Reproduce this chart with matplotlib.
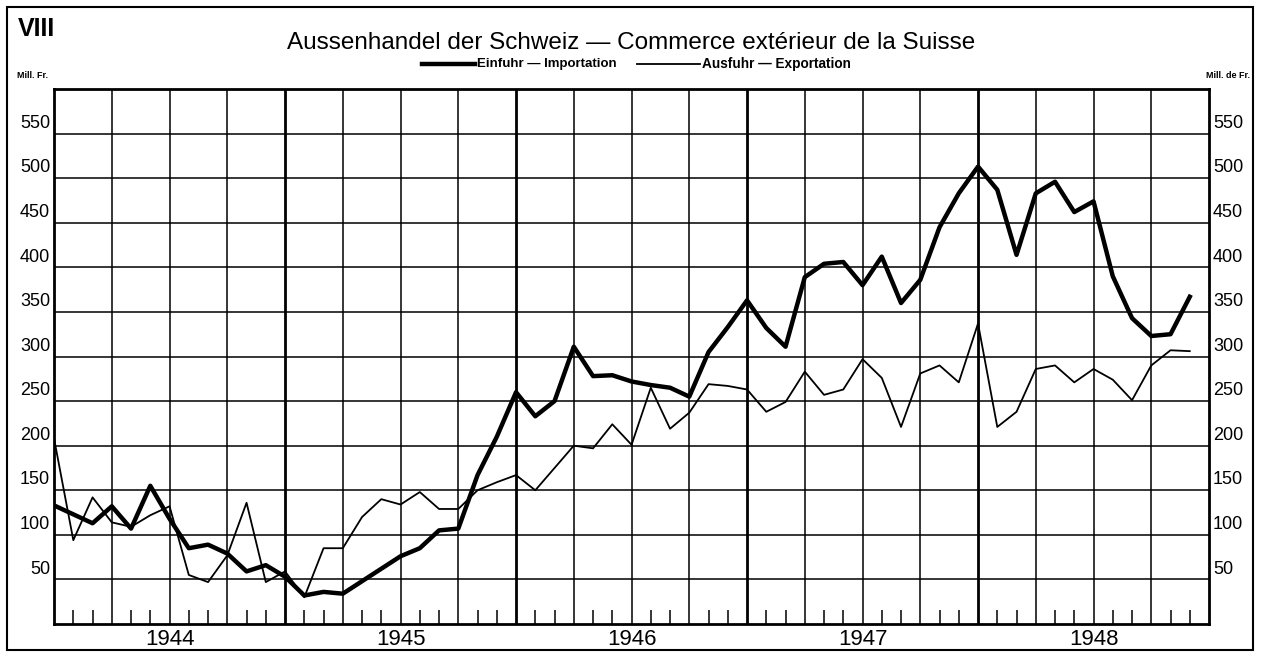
import matplotlib
matplotlib.use('Agg')
import matplotlib.pyplot as plt
import numpy as np
from matplotlib.patches import Rectangle

plt.rcParams['font.family'] = ['Liberation Sans', 'DejaVu Sans']

# monthly values, Jan 1944 .. Dec 1948 (Mill. Fr.)
years = ['1944', '1945', '1946', '1947', '1948']
imports = [133, 123, 113, 132, 107, 155, 118, 85, 89, 79, 59, 66,
           53, 32, 36, 34, 48, 62, 76, 85, 105, 107, 167, 210,
           260, 233, 250, 311, 278, 279, 272, 268, 265, 255, 305, 333,
           363, 332, 311, 389, 404, 406, 380, 412, 360, 386, 445, 483,
           513, 487, 414, 483, 496, 462, 474, 390, 343, 323, 325, 367]
exports = [208, 94, 142, 114, 109, 122, 132, 55, 47, 77, 136, 47,
           59, 30, 85, 85, 120, 140, 134, 148, 129, 129, 150, 159,
           167, 150, 175, 200, 197, 224, 201, 265, 219, 237, 269, 267,
           263, 238, 249, 283, 257, 263, 297, 276, 221, 281, 290, 271,
           337, 221, 238, 286, 290, 271, 286, 274, 251, 290, 307, 306]
y_ticks = list(range(50, 600, 50))

fig = plt.figure(figsize=(12.66, 6.53), dpi=100)
ax = fig.add_axes([0.0427, 0.0444, 0.9123, 0.8193])

months = np.arange(len(imports))
ax.plot(months, imports, color='black', linewidth=3.2, solid_joinstyle='round', zorder=3)
ax.plot(months, exports, color='black', linewidth=1.3, zorder=3)

ax.set_xlim(0, 60)
ax.set_ylim(0, 600)

# grid: horizontal every 50, vertical every quarter, year lines heavier
for v in y_ticks:
    ax.axhline(v, color='black', linewidth=1.1, zorder=1)
for q in range(3, 60, 3):
    lw = 2.0 if q % 12 == 0 else 1.1
    ax.axvline(q, color='black', linewidth=lw, zorder=1)

ax.set_xticks([m for m in range(1, 60) if m % 3 != 0])
ax.set_yticks([])
ax.tick_params(axis='x', direction='in', length=10, width=1.1, labelbottom=False, color='black')
for s in ax.spines.values():
    s.set_linewidth(2.0)

for i, yr in enumerate(years):
    ax.text(12 * i + 6, -6, yr, ha='center', va='top', fontsize=16)

for v in y_ticks:
    ax.text(-0.2, v + 2, str(v), ha='right', va='bottom', fontsize=13)
    ax.text(60.2, v + 2, str(v), ha='left', va='bottom', fontsize=13)

# texts around the chart
fig.text(18 / 1266, 1 - 29 / 653, 'VIII', fontsize=18, fontweight='bold', va='center')
fig.text(631 / 1266, 1 - 43 / 653, 'Aussenhandel der Schweiz \u2014 Commerce extérieur de la Suisse',
         fontsize=17.5, ha='center', va='center')
fig.text(17 / 1266, 1 - 76 / 653, 'Mill. Fr.', fontsize=6.5, fontweight='bold', va='center')
fig.text(1250 / 1266, 1 - 76 / 653, 'Mill. de Fr.', fontsize=6.5, fontweight='bold', va='center', ha='right')

# legend drawn by hand like the original
ly = 1 - 64 / 653
fig.add_artist(plt.Line2D([422 / 1266, 475 / 1266], [ly, ly], color='black', linewidth=3.2))
fig.text(477 / 1266, ly, 'Einfuhr \u2014 Importation', fontsize=9.5, fontweight='bold', va='center')
fig.add_artist(plt.Line2D([637 / 1266, 700 / 1266], [ly, ly], color='black', linewidth=1.3))
fig.text(702 / 1266, ly, 'Ausfuhr \u2014 Exportation', fontsize=9.8, fontweight='bold', va='center')

# outer frame
fig.add_artist(Rectangle((7 / 1266, 3 / 653), 1246 / 1266, 643 / 653, transform=fig.transFigure,
                         fill=False, edgecolor='black', linewidth=1.5))

fig.savefig('out.png', dpi=100)
plt.close(fig)
